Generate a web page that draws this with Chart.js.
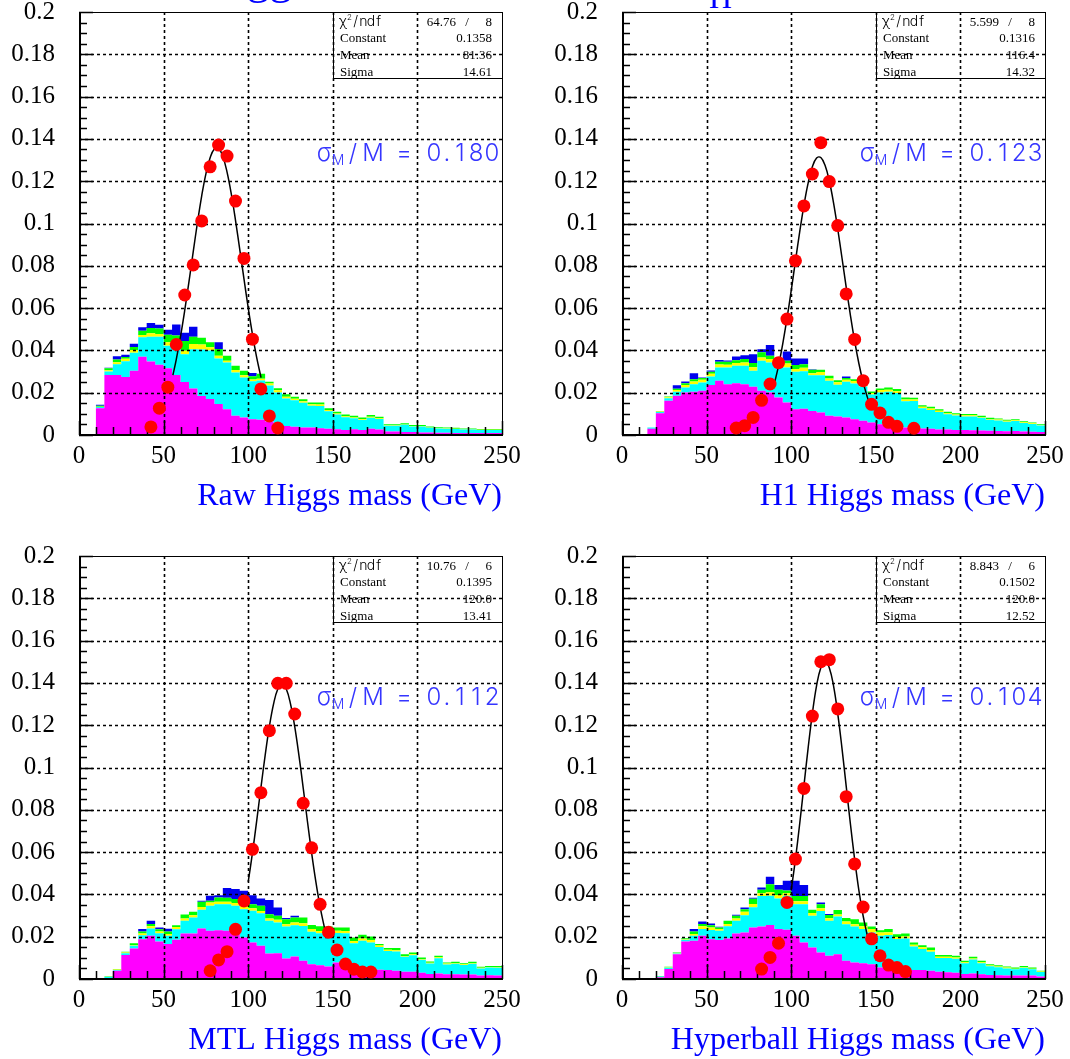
<!DOCTYPE html>
<html><head><meta charset="utf-8">
<script src="https://cdn.jsdelivr.net/npm/chart.js@4.4.1/dist/chart.umd.min.js"></script>
<style>
html,body{margin:0;padding:0;background:#fff;}
body{width:1070px;height:1059px;position:relative;overflow:hidden;}
.pn{position:absolute;}
canvas{display:block;}
</style></head><body>
<div class="pn" style="left:0;top:0"><canvas id="c0" width="535" height="529"></canvas></div>
<div class="pn" style="left:535px;top:0"><canvas id="c1" width="535" height="529"></canvas></div>
<div class="pn" style="left:0;top:529px"><canvas id="c2" width="535" height="530"></canvas></div>
<div class="pn" style="left:535px;top:529px"><canvas id="c3" width="535" height="530"></canvas></div>
<script>
// ---------- axis ticks ----------
const xTickVals = [0, 50, 100, 150, 200, 250];
const xTickLabels = ['0', '50', '100', '150', '200', '250'];
const yTickVals = [0, 0.02, 0.04, 0.06, 0.08, 0.1, 0.12, 0.14, 0.16, 0.18, 0.2];
const yTickLabels = ['0', '0.02', '0.04', '0.06', '0.08', '0.1', '0.12', '0.14', '0.16', '0.18', '0.2'];
const xMin = 0, xMax = 250, yMin = 0, yMax = 0.2;

// ---------- histogram bins (low edges, GeV) ----------
const binLow = [0,5,10,15,20,25,30,35,40,45,50,55,60,65,70,75,80,85,90,95,100,105,110,115,120,125,130,135,140,145,150,155,160,165,170,175,180,185,190,195,200,205,210,215,220,225,230,235,240,245];

const titles = ['Raw Higgs mass (GeV)', 'H1 Higgs mass (GeV)', 'MTL Higgs mass (GeV)', 'Hyperball Higgs mass (GeV)'];
const ratioValues = ['0.180', '0.123', '0.112', '0.104'];
const statChi2 = ['64.76', '5.599', '10.76', '8.843'];
const statNdf = ['8', '8', '6', '6'];
const statConstant = ['0.1358', '0.1316', '0.1395', '0.1502'];
const statMean = ['81.36', '116.4', '120.0', '120.0'];
const statSigma = ['14.61', '14.32', '13.41', '12.52'];

// thin red layer along the bottom
const floorRed = [.0004,.0004,.0004,.0004,.0004,.0004,.0004,.0004,.0004,.0004,.0004,.0004,.0004,.0004,.0004,.0004,.0004,.0004,.0004,.0004,.0004,.0004,.0004,.0004,.0004,.0004,.0004,.0004,.0004,.0004,.0004,.0004,.0004,.0004,.0004,.0004,.0004,.0004,.0004,.0004,.0004,.0004,.0004,.0004,.0004,.0004,.0004,.0004,.0004,.0004];

// ---------- Panel 1: Raw ----------
const rawMagenta = [0,0,.0123,.028,.028,.027,.030,.0366,.0344,.0328, .0312,.028,.0247,.0216,.018,.0166,.0142,.0118,.0087,.0079, .007,.0068,.006,.0047,.0039,.0035,.0031,.0031,.0028,.0025, .0023,.002,.0023,.002,.0025,.0022,.0012,.0012,.001,.001, .0008,.0008,.0007,.0007,.0006,.0006,.0006,.0005,.0005,.0005];
const rawCyan = [0,0,.0005,.0016,.005,.0075,.0085,.0092,.0117,.0132, .0106,.0131,.0131,.0186,.022,.0229,.0216,.0221,.0205,.0189, .018,.0186,.017,.015,.013,.0125,.0118,.0103,.0105,.0083, .007,.006,.0052,.0047,.0053,.005,.0028,.0028,.0034,.0026, .0028,.0022,.002,.0019,.0018,.0016,.0016,.0015,.0015,.0015];
const rawYellow = [0,0,.0002,.0006,.001,.0012,.0013,.0011,.0016,.0013, .0016,.0016,.0016,.0024,.0024,.0016,.0013,.0008,.0011,.0011, .0008,.0008,.001,.001,.0008,.0007,.0007,.0007,.0007,.0006, .0005,.0005,.0004,.0004,.0004,.0003,.0002,.0002,.0002,.0002, .0002,.0002,.0002,.0002,.0002,.0001,.0001,.0001,.0001,.0001];
const rawGreen = [0,0,.0004,.001,.0013,.0008,.0014,.002,.0025,.0027, .0036,.0039,.0047,.0035,.0032,.0024,.0032,.0024,.002,.0021, .0016,.0024,.0008,.001,.0012,.001,.0009,.0009,.001,.0009, .0008,.0008,.0008,.0008,.0008,.0007,.0005,.0005,.0006,.0005, .0005,.0004,.0004,.0004,.0004,.0004,.0004,.0003,.0003,.0003];
const rawBlue = [0,0,.0005,.0002,.0015,.0011,.0016,.0016,.0024,.0017, .0024,.0052,.0039,.0047,0,0,.0032,0,0,0, .0015,0,0,0,0,0,0,0,0,0, 0,0,0,0,0,0,0,0,0,0, 0,0,0,0,0,0,0,0,0,0];
const rawPointsX = [42.5,47.5,52.5,57.5,62.5,67.5,72.5,77.5,82.5,87.5,92.5,97.5,102.5,107.5,112.5,117.5];
const rawPointsY = [.0038,.0127,.0226,.0428,.0662,.0804,.1012,.1268,.1371,.1319,.1106,.0835,.0453,.0218,.009,.0033];
const rawFitX = [55.5,57.5,60,62.5,65,67.5,70,72.5,75,77.5,80,82.5,85,87.5,90,92.5,95,97.5,100,102.5,105,107.6];
const rawFitY = [.0283,.0358,.0466,.059,.0725,.0866,.1004,.113,.1235,.1311,.1352,.1354,.1317,.1243,.114,.1015,.0878,.0738,.0602,.0477,.0367,.0271];

// ---------- Panel 2: H1 ----------
const h1Magenta = [0,0,0,.0025,.0099,.0158,.0181,.0197,.02,.0205, .0232,.0252,.0236,.0241,.0236,.0224,.0205,.0197,.0173,.015, .0118,.012,.011,.0102,.0087,.0084,.0079,.0071,.0063,.0055, .0047,.0039,.0036,.0032,.0027,.0027,.0025,.0022,.0022,.002, .002,.0018,.0017,.0016,.0015,.0014,.0015,.0012,.0011,.001];
const h1Cyan = [0,0,0,.0007,.0006,.0012,.0019,.0024,.0036,.0039, .0041,.0063,.0079,.0082,.0087,.0076,.0142,.0142,.0142,.0165, .0177,.0178,.0169,.0176,.0165,.015,.0169,.0169,.0162,.0132, .015,.0161,.0158,.0124,.013,.0095,.0089,.0083,.0072,.0068, .0064,.0066,.006,.0052,.005,.0045,.0047,.0041,.0037,.0031];
const h1Yellow = [0,0,0,0,.0002,.0004,.0009,.0011,.0013,.0013, .0013,.0014,.0013,.0013,.0016,.0016,.0016,.0016,.0011,.0019, .0013,.0016,.0009,.0016,.0011,.0011,.0009,.0011,.0009,.0008, .0012,.001,.0009,.0008,.0007,.0007,.0007,.0006,.0005,.0005, .0005,.0005,.0004,.0004,.0004,.0004,.0004,.0003,.0003,.0002];
const h1Green = [0,0,0,0,.0002,.0004,.0006,.0009,.0011,.0008, .0009,.0013,.0014,.0014,.0016,.002,.0024,.0016,.0013,.0013, .0019,.0016,.0016,.001,.0013,.001,.0009,.0009,.001,.0007, .0007,.0011,.001,.0009,.0008,.0008,.0008,.0007,.0007,.0006, .0006,.0006,.0006,.0005,.0005,.0005,.0005,.0005,.0004,.0004];
const h1Blue = [0,0,0,0,0,0,.0016,.0008,.0028,.0003, .0006,.0009,.0006,.0017,.0018,.0042,.0015,.0051,.0011,.0044, .0031,.0028,.0003,0,0,0,.0007,0,0,0, 0,0,0,0,0,0,0,0,0,0, 0,0,0,0,0,0,0,0,0,0];
const h1PointsX = [67.5,72.5,77.5,82.5,87.5,92.5,97.5,102.5,107.5,112.5,117.5,122.5,127.5,132.5,137.5,142.5,147.5,152.5,157.5,162.5,172.5];
const h1PointsY = [.0033,.0044,.0083,.0164,.0241,.0342,.0548,.0824,.1083,.1234,.1382,.1198,.099,.0667,.0452,.0257,.0145,.0104,.006,.0041,.0032];
const h1FitX = [90,92.5,95,97.5,100,102.5,105,107.5,110,112.5,115,117.5,120,122.5,125,127.5,130,132.5,135,137.5,140,142.5,145,146.2];
const h1FitY = [.0241,.0327,.0431,.0551,.0683,.0822,.0959,.1085,.1191,.1268,.131,.1312,.1275,.1202,.1099,.0974,.0838,.0699,.0566,.0444,.0338,.025,.0179,.0151];

// ---------- Panel 3: MTL ----------
const mtlMagenta = [0,0,0,0,.0035,.011,.014,.0184,.02,.0173, .0161,.0181,.0211,.0211,.0235,.0224,.0227,.0224,.0216,.0192, .0169,.0153,.0117,.0118,.0093,.0102,.0082,.0066,.0061,.0055, .0074,.0058,.005,.0046,.0043,.004,.0038,.0035,.003,.003, .0025,.002,.0022,.0018,.0018,.0017,.0017,.0013,.0014,.0013];
const mtlCyan = [0,0,0,.0006,.0004,.0008,.0013,.0019,.0035,.0039, .004,.005,.006,.0076,.0088,.0118,.0123,.0126,.0126,.0134, .015,.0154,.0154,.0145,.0151,.0148,.0165,.0153,.0151,.0161, .0139,.0154,.0115,.0131,.0126,.0107,.009,.0091,.0071,.0078, .0062,.0049,.0072,.0047,.005,.0045,.0051,.0033,.0036,.0036];
const mtlYellow = [0,0,0,0,.0002,.0003,.0003,.0008,.001,.0009, .0008,.0011,.0011,.0011,.0014,.0016,.0011,.0011,.0013,.0016, .0011,.0011,.0011,.0013,.0011,.0013,.0013,.0013,.0011,.0013, .0011,.0011,.0011,.0011,.0011,.0007,.0006,.0006,.0004,.0005, .0004,.0004,.0005,.0004,.0004,.0004,.0004,.0003,.0003,.0003];
const mtlGreen = [0,0,0,.0002,.0002,.0004,.0009,.001,.0011,.001, .0011,.0008,.0019,.0016,.0024,.0008,.002,.0019,.0019,.0024, .002,.0024,.002,.0019,.0024,.0024,.0027,.0019,.0023,.0015, .0016,.0017,.0016,.0017,.0017,.0007,.0009,.001,.0008,.0008, .0007,.0006,.0007,.0005,.0005,.0005,.0005,.0005,.0005,.0005];
const mtlBlue = [0,0,0,0,0,0,0,.0011,.0016,.0008, .0013,0,0,0,.0005,.0024,.0011,.0046,.0047,.0047, .0042,.0035,.0068,.0039,.0005,.0008,0,0,0,0, 0,0,0,0,0,0,0,0,0,0, 0,0,0,0,0,0,0,0,0,0];
const mtlPointsX = [77.5,82.5,87.5,92.5,97.5,102.5,107.5,112.5,117.5,122.5,127.5,132.5,137.5,142.5,147.5,152.5,157.5,162.5,167.5,172.5];
const mtlPointsY = [.0039,.009,.0129,.0235,.0369,.0613,.0881,.1174,.1398,.1398,.1253,.0831,.062,.0353,.0221,.0137,.0071,.0046,.0033,.0033];
const mtlFitX = [100,102.5,105,107.5,110,112.5,115,117.5,120,122.5,125,127.5,130,132.5,135,137.5,140,142.5,145,145.5];
const mtlFitY = [.0459,.0595,.0746,.0904,.1056,.1193,.1301,.1371,.1395,.1371,.1301,.1193,.1056,.0904,.0746,.0595,.0459,.0341,.0245,.0229];

// ---------- Panel 4: Hyperball ----------
const hypMagenta = [0,0,0,0,.0004,.0043,.0113,.0173,.0177,.02, .0184,.018,.0188,.0211,.0216,.024,.0244,.0251,.0232,.0229, .02,.0169,.0145,.0121,.0106,.0113,.0082,.0074,.0071,.0066, .005,.005,.0043,.004,.0038,.0038,.0035,.003,.0028,.0026, .002,.0022,.0018,.0015,.0014,.0013,.0012,.0013,.0012,.0008];
const hypCyan = [0,0,0,0,.0004,.0006,.0004,.0008,.0024,.0032, .0044,.0044,.0057,.006,.0082,.0095,.0145,.0139,.0145,.0161, .015,.0181,.015,.0197,.0166,.0178,.0173,.017,.0161,.015, .015,.0154,.0142,.0148,.0112,.01,.009,.0065,.0067,.0066, .0051,.0066,.0052,.0041,.0037,.0033,.003,.0036,.003,.0021];
const hypYellow = [0,0,0,0,0,.0002,.0002,.0004,.0008,.0013, .0011,.0008,.0011,.0011,.0016,.0016,.0013,.0016,.0016,.0011, .0014,.0014,.0013,.0013,.0011,.001,.0013,.0011,.0013,.0016, .0016,.0013,.0008,.0009,.0008,.0008,.0008,.0006,.0006,.0006, .0004,.0005,.0005,.0004,.0004,.0004,.0003,.0004,.0003,.0002];
const hypGreen = [0,0,0,0,.0002,.0003,.0002,.0004,.0011,.0011, .0011,.0008,.0015,.0013,.0012,.0024,.0016,.0038,.0025,.0013, .0025,.0025,.0015,.0019,.0016,.0021,.0016,.0024,.0018,.0012, .0011,.0015,.0015,.0014,.0011,.001,.0012,.0008,.0008,.0008, .0007,.0008,.0007,.0006,.0006,.0005,.0005,.0005,.0005,.0004];
const hypBlue = [0,0,0,0,0,0,0,0,.0012,.0012, .0008,.0003,0,.0005,.0008,.0005,.0011,.0035,.0022,.0046, .0071,.0051,0,.0008,.0004,0,0,0,0,0, 0,0,0,0,0,0,0,0,0,0, 0,0,0,0,0,0,0,0,0,0];
const hypPointsX = [82.5,87.5,92.5,97.5,102.5,107.5,112.5,117.5,122.5,127.5,132.5,137.5,142.5,147.5,152.5,157.5,162.5,167.5];
const hypPointsY = [.0047,.0102,.0169,.0362,.0567,.0901,.1243,.150,.151,.1277,.0862,.0544,.034,.019,.011,.0066,.0054,.0035];
const hypFitX = [100,102.5,105,107.5,110,112.5,115,117.5,120,122.5,125,127.5,130,132.5,135,137.5,140,142.5,145];
const hypFitY = [.0419,.0566,.0733,.0912,.1092,.1255,.1387,.1472,.1502,.1472,.1387,.1255,.1092,.0912,.0733,.0566,.0419,.0299,.0205];

// ---------- layout / style (not data) ----------
const layerColors = ['#ff0000', '#ff00ff', '#00ffff', '#ffff00', '#00ff00', '#0000ee'];
const panels = [
  {id:'c0', layers:[floorRed, rawMagenta, rawCyan, rawYellow, rawGreen, rawBlue], px:rawPointsX, py:rawPointsY, fx:rawFitX, fy:rawFitY, yW:79, padR:33, padT:12, xH:94, frag:{text:'gg', x:247, y:-6, size:45}},
  {id:'c1', layers:[floorRed, h1Magenta, h1Cyan, h1Yellow, h1Green, h1Blue], px:h1PointsX, py:h1PointsY, fx:h1FitX, fy:h1FitY, yW:87, padR:25, padT:12, xH:94, frag:{text:'H', x:174, y:8, size:32}},
  {id:'c2', layers:[floorRed, mtlMagenta, mtlCyan, mtlYellow, mtlGreen, mtlBlue], px:mtlPointsX, py:mtlPointsY, fx:mtlFitX, fy:mtlFitY, yW:79, padR:33, padT:27, xH:80, frag:null},
  {id:'c3', layers:[floorRed, hypMagenta, hypCyan, hypYellow, hypGreen, hypBlue], px:hypPointsX, py:hypPointsY, fx:hypFitX, fy:hypFitY, yW:87, padR:25, padT:27, xH:80, frag:null}
];

const SERIF = '"Liberation Serif", "Times New Roman", serif';
const THIN = '"Inter", "DejaVu Sans", sans-serif';

function histData(vals) {
  const d = vals.map((v, i) => ({x: binLow[i], y: v}));
  d.push({x: xMax, y: vals[vals.length - 1]});
  return d;
}

function drawAxesDecor(chart) {
  const {ctx, chartArea: a} = chart;
  const xs = chart.scales.x, ys = chart.scales.y;
  ctx.save();
  ctx.strokeStyle = '#000';
  ctx.lineWidth = 1.6;
  ctx.setLineDash([3, 3]);
  ctx.beginPath();
  for (const v of xTickVals) {
    if (v <= xMin || v >= xMax) continue;
    const p = Math.round(xs.getPixelForValue(v)) + 0.5;
    ctx.moveTo(p, a.top); ctx.lineTo(p, a.bottom);
  }
  for (const v of yTickVals) {
    if (v <= yMin + 1e-9 || v >= yMax - 1e-9) continue;
    const p = Math.round(ys.getPixelForValue(v)) + 0.5;
    ctx.moveTo(a.left, p); ctx.lineTo(a.right, p);
  }
  ctx.stroke();
  ctx.setLineDash([]);
  ctx.lineWidth = 1.5;
  ctx.beginPath();
  for (let k = 0; k <= 25; k++) {
    const v = k * 10;
    const p = Math.round(xs.getPixelForValue(v)) + 0.5;
    const len = (k % 5 === 0) ? 14 : 8;
    ctx.moveTo(p, a.bottom); ctx.lineTo(p, a.bottom - len);
  }
  for (let k = 0; k <= 40; k++) {
    const v = k * 0.005;
    const p = Math.round(ys.getPixelForValue(v)) + 0.5;
    const len = (k % 4 === 0) ? 14 : 8;
    ctx.moveTo(a.left, p); ctx.lineTo(a.left + len, p);
  }
  ctx.stroke();
  ctx.lineWidth = 1;
  ctx.strokeRect(a.left + 0.5, a.top + 0.5, a.right - a.left, a.bottom - a.top);
  ctx.lineWidth = 2;
  ctx.beginPath();
  ctx.moveTo(a.left + 1, a.top); ctx.lineTo(a.left + 1, a.bottom); ctx.lineTo(a.right + 1, a.bottom);
  ctx.stroke();
  ctx.restore();
}

function drawMono(ctx, chars, xStart, y, cell) {
  ctx.textAlign = 'center';
  let x = xStart;
  for (const ch of chars) { ctx.fillText(ch, x + cell / 2, y); x += cell; }
}

function drawAnnotations(chart, i, frag) {
  const {ctx, chartArea: a} = chart;
  ctx.save();
  // stats box
  const R = a.right, L = R - 169, T = a.top, B = T + 66;
  ctx.strokeStyle = '#000'; ctx.lineWidth = 1;
  ctx.strokeRect(L + 0.5, T + 0.5, R - L, B - T);
  ctx.fillStyle = '#000';
  ctx.textBaseline = 'alphabetic';
  ctx.font = '300 14px ' + THIN;
  ctx.textAlign = 'left';
  ctx.fillText('\u03C7', L + 6, T + 14);
  ctx.font = '300 8px ' + THIN;
  ctx.fillText('2', L + 14, T + 8);
  ctx.font = '300 14px ' + THIN;
  drawMono(ctx, ['/', 'n', 'd', 'f'], L + 19, T + 14, 7.6);
  ctx.font = '13px ' + SERIF;
  ctx.textAlign = 'left';
  ctx.fillText('Constant', L + 7, T + 29.5);
  ctx.fillText('Mean', L + 7, T + 47);
  ctx.fillText('Sigma', L + 7, T + 63.5);
  ctx.textAlign = 'right';
  ctx.fillText(statChi2[i], L + 123, T + 14);
  ctx.fillText(statNdf[i], R - 10, T + 14);
  ctx.fillText(statConstant[i], R - 10, T + 29.5);
  ctx.fillText(statMean[i], R - 10, T + 47);
  ctx.fillText(statSigma[i], R - 10, T + 63.5);
  ctx.textAlign = 'center';
  ctx.fillText('/', L + 134, T + 14);

  // sigma_M / M text
  const base = T + 149, r = R;
  ctx.fillStyle = '#3535ff';
  ctx.textAlign = 'center';
  ctx.font = '300 24px ' + THIN;
  ctx.fillText('\u03C3', r - 178, base);
  ctx.fillText('/', r - 149, base);
  ctx.fillText('M', r - 129, base);
  ctx.fillText('=', r - 98, base);
  const digitCenters = [-74, -61, -48, -32, -16];
  ratioValues[i].split('').forEach((ch, k) => ctx.fillText(ch, r + digitCenters[k] + 6, base));
  ctx.font = '300 14px ' + THIN;
  ctx.fillText('M', r - 164, base + 4);

  // x axis title
  ctx.fillStyle = '#0000ff';
  ctx.font = '32px ' + SERIF;
  ctx.textAlign = 'right';
  ctx.fillText(titles[i], a.right, a.bottom + 70);

  // cut-off title fragments at the top
  if (frag) {
    ctx.font = frag.size + 'px ' + SERIF;
    ctx.textAlign = 'left';
    ctx.fillText(frag.text, frag.x, frag.y);
  }
  ctx.restore();
}

panels.forEach((p, i) => {
  const datasets = p.layers.map((vals, k) => ({
    type: 'line',
    data: histData(vals),
    stepped: 'before',
    borderWidth: 0,
    borderColor: 'rgba(0,0,0,0)',
    backgroundColor: layerColors[k],
    pointRadius: 0,
    fill: k === 0 ? 'origin' : '-1',
    yAxisID: 'y',
    order: 2
  }));
  const fitIndex = datasets.length;
  datasets.push({
    type: 'line',
    data: p.fx.map((x, k) => ({x: x, y: p.fy[k]})),
    borderColor: '#000', borderWidth: 1.5, pointRadius: 0, tension: 0.4,
    fill: false, yAxisID: 'y2', order: 1
  });
  datasets.push({
    type: 'line',
    data: p.px.map((x, k) => ({x: x, y: p.py[k]})),
    showLine: false, pointRadius: 6.5, pointBackgroundColor: '#ff0000', pointBorderWidth: 0,
    pointBorderColor: '#ff0000', fill: false, yAxisID: 'y2', order: 0
  });
  const plugin = {
    id: 'panel' + i,
    beforeDatasetDraw(chart, args) { if (args.index === fitIndex) drawAxesDecor(chart); },
    afterDraw(chart) { drawAnnotations(chart, i, p.frag); }
  };
  new Chart(document.getElementById(p.id), {
    type: 'line',
    data: {datasets},
    options: {
      responsive: false, animation: false, events: [],
      layout: {padding: {left: 0, right: p.padR, top: p.padT, bottom: 0}},
      plugins: {legend: {display: false}, tooltip: {enabled: false}},
      scales: {
        x: {
          type: 'linear', min: xMin, max: xMax,
          afterBuildTicks: s => { s.ticks = xTickVals.map(v => ({value: v})); },
          afterFit: s => { s.height = p.xH; s.paddingLeft = 0; s.paddingRight = 0; },
          grid: {display: false, drawTicks: false}, border: {display: false},
          ticks: {font: {family: 'Liberation Serif', size: 25}, color: '#000', padding: 6, maxRotation: 0, autoSkip: false,
                  callback: (v, idx) => xTickLabels[idx]}
        },
        y: {
          type: 'linear', stacked: true, min: yMin, max: yMax,
          afterBuildTicks: s => { s.ticks = yTickVals.map(v => ({value: v})); },
          afterFit: s => { s.width = p.yW; s.paddingTop = 0; s.paddingBottom = 0; },
          grid: {display: false, drawTicks: false}, border: {display: false},
          ticks: {font: {family: 'Liberation Serif', size: 25}, color: '#000', padding: 24, autoSkip: false,
                  callback: (v, idx) => yTickLabels[idx]}
        },
        y2: {type: 'linear', display: false, min: yMin, max: yMax}
      }
    },
    plugins: [plugin]
  });
});
</script>
</body></html>
